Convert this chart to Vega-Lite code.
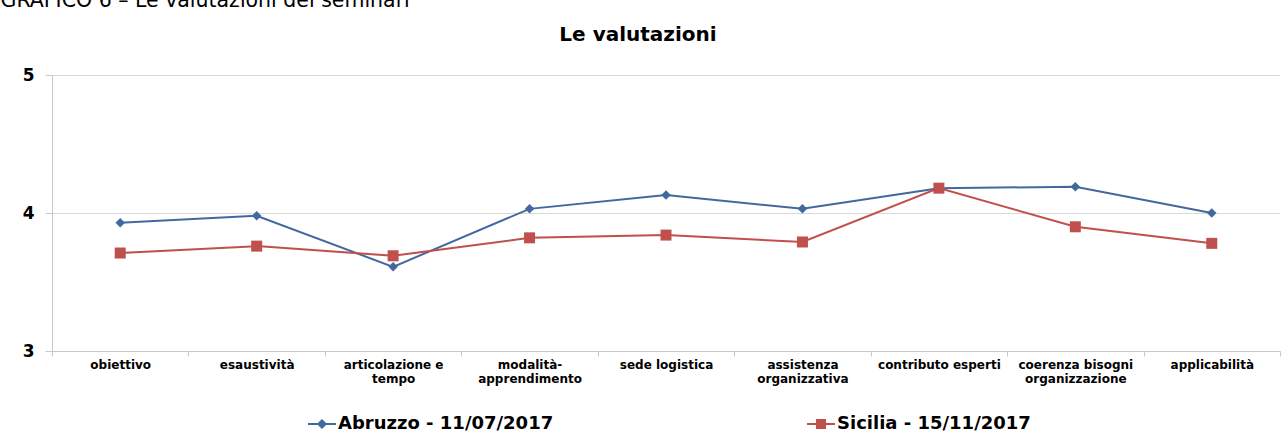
{
  "$schema": "https://vega.github.io/schema/vega-lite/v6.json",
  "autosize": {"type": "none"},
  "width": 1228,
  "height": 276,
  "padding": {"left": 52, "top": 75, "right": 1, "bottom": 83},
  "background": "white",
  "title": {
    "text": "Le valutazioni",
    "font": "DejaVu Sans",
    "fontSize": 20,
    "fontWeight": "bold",
    "color": "#000000",
    "anchor": "middle",
    "dx": -28,
    "dy": 55,
    "offset": 0
  },
  "config": {
    "view": {"stroke": null},
    "font": "DejaVu Sans"
  },
  "data": {
    "values": [
      {"categoria": "obiettivo", "serie": "Abruzzo - 11/07/2017", "valore": 3.93},
      {"categoria": "esaustività", "serie": "Abruzzo - 11/07/2017", "valore": 3.98},
      {"categoria": "articolazione e tempo", "serie": "Abruzzo - 11/07/2017", "valore": 3.61},
      {"categoria": "modalità-apprendimento", "serie": "Abruzzo - 11/07/2017", "valore": 4.03},
      {"categoria": "sede logistica", "serie": "Abruzzo - 11/07/2017", "valore": 4.13},
      {"categoria": "assistenza organizzativa", "serie": "Abruzzo - 11/07/2017", "valore": 4.03},
      {"categoria": "contributo esperti", "serie": "Abruzzo - 11/07/2017", "valore": 4.18},
      {"categoria": "coerenza bisogni organizzazione", "serie": "Abruzzo - 11/07/2017", "valore": 4.19},
      {"categoria": "applicabilità", "serie": "Abruzzo - 11/07/2017", "valore": 4.00},
      {"categoria": "obiettivo", "serie": "Sicilia - 15/11/2017", "valore": 3.71},
      {"categoria": "esaustività", "serie": "Sicilia - 15/11/2017", "valore": 3.76},
      {"categoria": "articolazione e tempo", "serie": "Sicilia - 15/11/2017", "valore": 3.69},
      {"categoria": "modalità-apprendimento", "serie": "Sicilia - 15/11/2017", "valore": 3.82},
      {"categoria": "sede logistica", "serie": "Sicilia - 15/11/2017", "valore": 3.84},
      {"categoria": "assistenza organizzativa", "serie": "Sicilia - 15/11/2017", "valore": 3.79},
      {"categoria": "contributo esperti", "serie": "Sicilia - 15/11/2017", "valore": 4.18},
      {"categoria": "coerenza bisogni organizzazione", "serie": "Sicilia - 15/11/2017", "valore": 3.90},
      {"categoria": "applicabilità", "serie": "Sicilia - 15/11/2017", "valore": 3.78}
    ]
  },
  "encoding": {
    "x": {
      "field": "categoria",
      "type": "nominal",
      "sort": null,
      "scale": {"type": "band", "paddingInner": 0, "paddingOuter": 0},
      "axis": {
        "title": null,
        "labelAngle": 0,
        "labelFont": "DejaVu Sans",
        "labelFontSize": 12,
        "labelFontWeight": "bold",
        "labelColor": "#000000",
        "labelBaseline": "top",
        "labelLineHeight": 14,
        "labelPadding": 3,
        "labelLimit": 200,
        "labelExpr": "datum.label == 'articolazione e tempo' ? ['articolazione e', 'tempo'] : datum.label == 'modalità-apprendimento' ? ['modalità-', 'apprendimento'] : datum.label == 'assistenza organizzativa' ? ['assistenza', 'organizzativa'] : datum.label == 'coerenza bisogni organizzazione' ? ['coerenza bisogni', 'organizzazione'] : datum.label",
        "tickBand": "extent",
        "ticks": true,
        "tickSize": 5,
        "tickColor": "#C8C8C8",
        "domainColor": "#C8C8C8",
        "domainWidth": 1,
        "grid": false
      }
    },
    "y": {
      "field": "valore",
      "type": "quantitative",
      "scale": {"domain": [3, 5], "nice": false, "zero": false},
      "axis": {
        "title": "GRAFICO 6 – Le valutazioni dei seminari",
        "titleAngle": 0,
        "titleX": -52,
        "titleY": -69,
        "titleAlign": "left",
        "titleBaseline": "alphabetic",
        "titleFont": "DejaVu Sans",
        "titleFontSize": 20.5,
        "titleFontWeight": "normal",
        "titleColor": "#000000",
        "values": [3, 4, 5],
        "labelExpr": "toString(datum.value)",
        "labelFont": "DejaVu Sans",
        "labelFontSize": 17,
        "labelFontWeight": "bold",
        "labelColor": "#000000",
        "labelPadding": 11,
        "tickSize": 7,
        "tickColor": "#C8C8C8",
        "domainColor": "#C8C8C8",
        "grid": true,
        "gridColor": "#D9D9D9",
        "gridWidth": 1.2
      }
    },
    "color": {
      "field": "serie",
      "type": "nominal",
      "scale": {"domain": ["Abruzzo - 11/07/2017", "Sicilia - 15/11/2017"], "range": ["#41699F", "#C0504D"]},
      "legend": {
        "title": null,
        "orient": "none",
        "direction": "horizontal",
        "legendX": 256,
        "legendY": 335,
        "columnPadding": 253,
        "labelFont": "DejaVu Sans",
        "labelFontSize": 18,
        "labelFontWeight": "bold",
        "labelColor": "#000000",
        "labelOffset": 2,
        "labelLimit": 400,
        "symbolSize": 784,
        "symbolStrokeWidth": 0,
        "encode": {
          "symbols": {
            "update": {
              "shape": {"signal": "datum.value == 'Abruzzo - 11/07/2017' ? 'M-1,-0.07L1,-0.07L1,0.07L-1,0.07ZM0,-0.36L0.36,0L0,0.36L-0.36,0Z' : 'M-1,-0.07L1,-0.07L1,0.07L-1,0.07ZM-0.36,-0.36L0.36,-0.36L0.36,0.36L-0.36,0.36Z'"},
              "fill": {"signal": "datum.value == 'Abruzzo - 11/07/2017' ? '#41699F' : '#C0504D'"},
              "strokeWidth": {"value": 0}
            }
          }
        }
      }
    }
  },
  "layer": [
    {
      "mark": {"type": "line", "strokeWidth": 2}
    },
    {
      "transform": [{"filter": "datum.serie == 'Abruzzo - 11/07/2017'"}],
      "mark": {"type": "point", "shape": "diamond", "size": 90, "filled": true, "opacity": 1}
    },
    {
      "transform": [{"filter": "datum.serie == 'Sicilia - 15/11/2017'"}],
      "mark": {"type": "point", "shape": "square", "size": 121, "filled": true, "opacity": 1}
    }
  ]
}
